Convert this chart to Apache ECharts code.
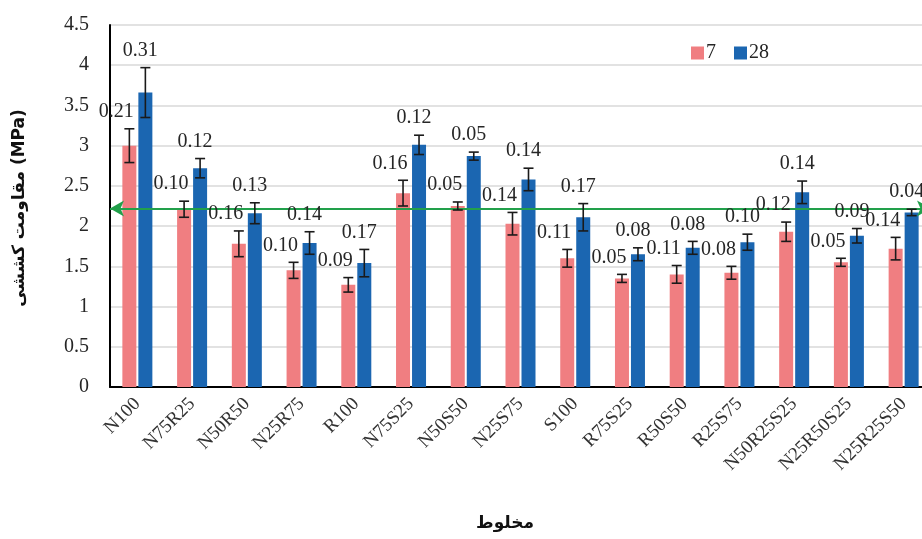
<!DOCTYPE html>
<html>
<head>
<meta charset="utf-8">
<script src="https://cdn.jsdelivr.net/npm/echarts@6/dist/echarts.min.js"></script>
<style>
html,body{margin:0;padding:0;background:#fff;}
#chart{width:922px;height:539px;}
</style>
</head>
<body>
<div id="chart"></div>
<script>
const categories = ['N100','N75R25','N50R50','N25R75','R100','N75S25','N50S50','N25S75','S100','R75S25','R50S50','R25S75','N50R25S25','N25R50S25','N25R25S50'];
const values7  = [3.00, 2.21, 1.78, 1.45, 1.27, 2.41, 2.25, 2.03, 1.60, 1.35, 1.40, 1.42, 1.93, 1.55, 1.72];
const errors7  = [0.21, 0.10, 0.16, 0.10, 0.09, 0.16, 0.05, 0.14, 0.11, 0.05, 0.11, 0.08, 0.12, 0.05, 0.14];
const values28 = [3.66, 2.72, 2.16, 1.79, 1.54, 3.01, 2.87, 2.58, 2.11, 1.65, 1.73, 1.80, 2.42, 1.88, 2.17];
const errors28 = [0.31, 0.12, 0.13, 0.14, 0.17, 0.12, 0.05, 0.14, 0.17, 0.08, 0.08, 0.10, 0.14, 0.09, 0.04];
const seriesNames = ['7', '28'];
const referenceLine = 2.22;
const yTicks = {min: 0, max: 4.5, interval: 0.5};

const PINK = '#F07E81', BLUE = '#1B66B1';
const BAR_W = 14, BAR_GAP_PX = 2;
const SERIF = '"Liberation Serif", "Times New Roman", serif';

function errItem(offsetSign, labelShift) {
  return function (params, api) {
    const idx = api.value(0), v = api.value(1), e = api.value(2);
    const base = api.coord([idx, v]);
    const cx = base[0] + offsetSign * (BAR_W + BAR_GAP_PX) / 2;
    const top = api.coord([idx, v + e])[1];
    const bot = api.coord([idx, v - e])[1];
    const cap = 5;
    const st = {stroke: '#1a1a1a', lineWidth: 1.6};
    return {
      type: 'group',
      children: [
        {type: 'line', shape: {x1: cx, y1: top, x2: cx, y2: bot}, style: st},
        {type: 'line', shape: {x1: cx - cap, y1: top, x2: cx + cap, y2: top}, style: st},
        {type: 'line', shape: {x1: cx - cap, y1: bot, x2: cx + cap, y2: bot}, style: st},
        {type: 'text', x: cx + labelShift, y: top - 17,
          style: {text: e.toFixed(2), fill: '#262626', font: '20px ' + SERIF,
                  textAlign: 'center', textVerticalAlign: 'middle'}}
      ]
    };
  };
}

const chart = echarts.init(document.getElementById('chart'), null, {renderer: 'canvas'});
chart.setOption({
  backgroundColor: '#fff',
  animation: false,
  grid: {left: 110, right: -9, top: 25, bottom: 152, containLabel: false, outerBoundsMode: 'none'},
  legend: {
    data: seriesNames,
    left: 686, top: 38,
    icon: 'rect', itemWidth: 13, itemHeight: 13, itemGap: 18,
    textStyle: {fontFamily: SERIF, fontSize: 20, color: '#262626', padding: [0, 0, 0, -3]}
  },
  xAxis: {
    type: 'category',
    data: categories,
    axisLine: {lineStyle: {color: '#000', width: 2}},
    axisTick: {show: false},
    axisLabel: {interval: 0, rotate: 45, margin: 14, fontFamily: SERIF, fontSize: 19, color: '#333'},
    splitLine: {show: false}
  },
  yAxis: {
    type: 'value',
    min: yTicks.min, max: yTicks.max, interval: yTicks.interval,
    axisLine: {show: true, lineStyle: {color: '#000', width: 2}},
    axisTick: {show: false},
    axisLabel: {margin: 21, fontFamily: SERIF, fontSize: 20, color: '#262626'},
    splitLine: {lineStyle: {color: '#d9d9d9', width: 1.5}}
  },
  graphic: [
    {type: 'text', x: 20, y: 208, rotation: Math.PI / 2,
      style: {text: 'مقاومت کششی (MPa)', font: 'bold 17px "DejaVu Sans", sans-serif', fill: '#111',
              textAlign: 'center', textVerticalAlign: 'middle'}},
    {type: 'text', x: 505, y: 524,
      style: {text: 'مخلوط', font: 'bold 17px "DejaVu Sans", sans-serif', fill: '#111',
              textAlign: 'center', textVerticalAlign: 'middle'}}
  ],
  series: [
    {name: seriesNames[0], type: 'bar', data: values7, barWidth: BAR_W, barGap: (BAR_GAP_PX / BAR_W * 100) + '%',
      itemStyle: {color: PINK},
      markLine: {
        silent: true, symbol: ['arrow', 'arrow'], symbolSize: [12, 14],
        label: {show: false},
        lineStyle: {color: '#22A04B', width: 2, type: 'solid'},
        data: [{yAxis: referenceLine}]
      }},
    {name: seriesNames[1], type: 'bar', data: values28, barWidth: BAR_W, barGap: (BAR_GAP_PX / BAR_W * 100) + '%',
      itemStyle: {color: BLUE}},
    {name: 'err7', type: 'custom', renderItem: errItem(-1, -13), z: 5,
      data: values7.map((v, i) => [i, v, errors7[i]])},
    {name: 'err28', type: 'custom', renderItem: errItem(1, -5), z: 5,
      data: values28.map((v, i) => [i, v, errors28[i]])}
  ]
});
</script>
</body>
</html>
